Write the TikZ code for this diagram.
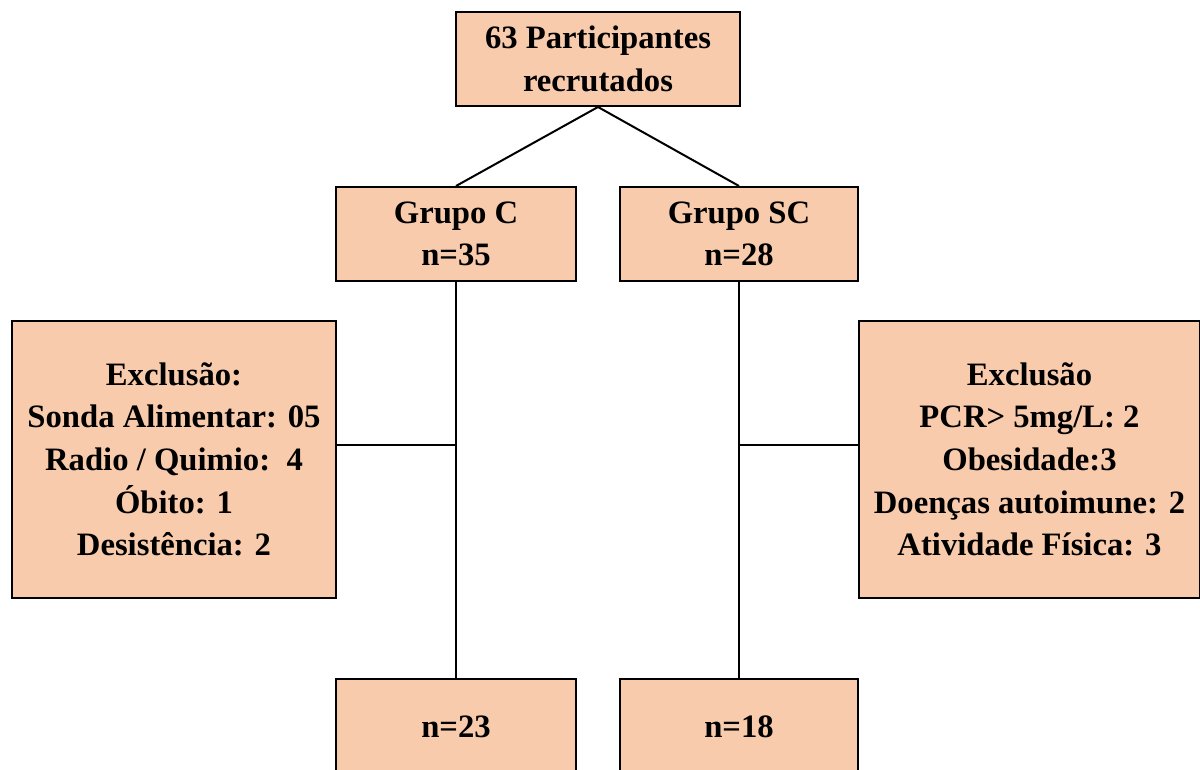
\documentclass[tikz,border=0pt]{standalone}
\usepackage{fontspec}
\setmainfont{Liberation Serif}
\definecolor{peach}{HTML}{F8CBAD}
\begin{document}
\begin{tikzpicture}[x=0.75pt,y=-0.75pt,
  box/.style={draw=black,line width=1.5pt,fill=peach,rectangle,align=center,inner sep=0pt,
    font=\fontsize{24.5}{32}\selectfont\bfseries},
  conn/.style={draw=black,line width=1.5pt}]
\useasboundingbox (0,0) rectangle (1200,770);
\clip (0,0) rectangle (1200,770);
\fill[white] (0,0) rectangle (1200,770);
\node[box,minimum width=284*0.75pt,minimum height=94*0.75pt] (top) at (598,59) {63 Participantes\\recrutados};
\node[box,minimum width=240*0.75pt,minimum height=94*0.75pt] (gc) at (456,234) {Grupo C\\n=35};
\node[box,minimum width=238*0.75pt,minimum height=94*0.75pt] (gsc) at (739,234) {Grupo SC\\n=28};
\node[box,minimum width=324*0.75pt,minimum height=277*0.75pt] (exl) at (174,459.5) {Exclusão:\\Sonda Alimentar: 05\\Radio / Quimio:\ \ 4\\Óbito: 1\\Desistência: 2};
\node[box,minimum width=341*0.75pt,minimum height=277*0.75pt] (exr) at (1029.5,459.5) {Exclusão\\PCR> 5mg/L: 2\\Obesidade:3\\Doenças autoimune: 2\\Atividade Física: 3};
\node[box,minimum width=240*0.75pt,minimum height=96*0.75pt] (bc) at (456,727) {n=23};
\node[box,minimum width=238*0.75pt,minimum height=96*0.75pt] (bsc) at (739,727) {n=18};
\coordinate (jl) at ([yshift=10.9pt]gc.south |- exl.east);
\coordinate (jr) at ([yshift=10.9pt]gsc.south |- exr.west);
\draw[conn] (top.south) -- (gc.north);
\draw[conn] (top.south) -- (gsc.north);
\draw[conn] (gc.south) -- (bc.north);
\draw[conn] (gsc.south) -- (bsc.north);
\draw[conn] (jl -| exl.east) -- (jl);
\draw[conn] (jr -| exr.west) -- (jr);
\end{tikzpicture}
\end{document}
